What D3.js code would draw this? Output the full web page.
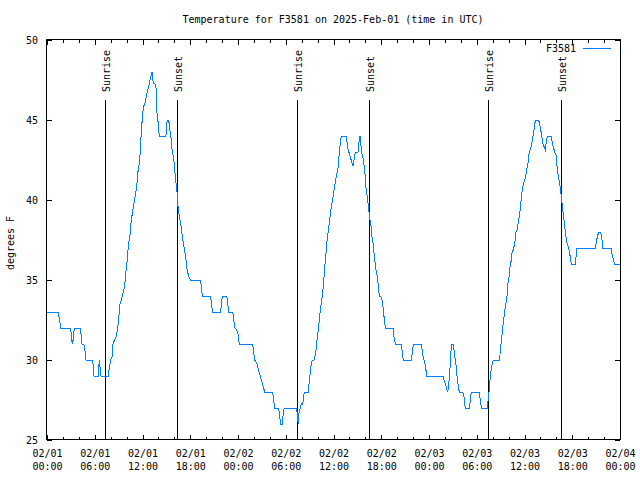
<!DOCTYPE html>
<html><head><meta charset="utf-8">
<script src="https://cdn.jsdelivr.net/npm/d3@7"></script>
<style>
body{margin:0;background:#fff}
svg text{font-family:"DejaVu Sans Mono","Liberation Mono",monospace;font-size:10px;fill:#000}
</style></head><body>
<svg id="c" width="640" height="480"></svg>
<script>
const chartTitle = "Temperature for F3581 on 2025-Feb-01 (time in UTC)";
const seriesName = "F3581";
const yAxisLabel = "degrees F";
const startTime = "2025-02-01T00:00:00Z";
const endTime = "2025-02-04T00:00:00Z";
const yTickValues = [25, 30, 35, 40, 45, 50];
const yDomain = [25, 50];
const sunriseTimes = ["2025-02-01T07:20:00Z", "2025-02-02T07:27:00Z", "2025-02-03T07:27:00Z"];
const sunsetTimes = ["2025-02-01T16:22:00Z", "2025-02-02T16:30:00Z", "2025-02-03T16:38:00Z"];
// [hours since startTime, temperature F]
const readings = [
[0,33],[1.42,33],[1.57,32.5],[1.72,32],[2.98,32],[3.08,31.3],[3.18,31],[3.30,31.3],[3.43,32],[4.18,32],
[4.31,31.5],[4.40,31],[4.61,31],[4.74,30.75],[4.90,30],[5.69,30],[5.78,29.75],[5.91,29],[6.45,29],[6.57,30],
[6.79,29],[7.70,29],[7.83,29.5],[8.00,30],[8.21,30.25],[8.29,31],[8.55,31.3],[8.71,31.5],[8.88,32],[9.09,33],
[9.17,33.5],[9.34,33.75],[9.46,34],[9.71,34.5],[9.84,35],[9.93,35.6],[10.09,36.25],[10.18,36.9],
[10.27,37.3],[10.43,37.8],[10.59,38.75],[10.77,39.3],[10.93,39.8],[11.10,40.3],[11.27,40.8],[11.44,41.8],[11.60,42.3],[11.77,43.3],
[11.85,44.4],[12.03,45.3],[12.10,45.8],[12.35,46.1],[12.60,46.8],[12.78,47.1],[12.94,47.5],[13.11,47.8],[13.19,48],[13.36,47.3],
[13.53,47.3],[13.70,47],[13.78,45.6],[13.95,44.9],[14.11,44],[14.95,44],[15.04,44.8],[15.20,45],[15.37,44.8],[15.46,44.3],
[15.62,43.75],[15.71,43.2],[15.87,42.7],[16.05,42.1],[16.12,41.35],[16.30,40.8],[16.46,39.6],[16.62,39],[16.80,38.5],[16.96,37.9],
[17.13,37.3],[17.30,36.8],[17.47,36.25],
[17.55,35.75],[17.72,35.4],[17.88,35.1],[18.06,35],[19.31,35],[19.39,34.5],[19.52,34],[20.57,34],[20.65,33.5],[20.82,33],
[21.83,33],[21.95,33.75],[22.08,34],[22.58,34],[22.66,33.75],[22.83,33],[23.34,33],[23.41,32.7],[23.59,32],[23.84,31.9],
[24.00,31.6],[24.16,31],[25.85,31],[25.92,30.6],[26.10,30],[26.35,29.8],[26.51,29.5],[26.68,29.2],[26.85,28.9],[27.02,28.6],
[27.18,28.3],[27.36,28],[28.36,28],[28.44,27.6],[28.61,27],[29.12,27],[29.19,26.6],[29.37,26],[29.57,26],[29.69,26.7],
[29.82,27],[31.38,27],[31.45,26.5],[31.58,26],[31.67,26.7],[31.83,27],[31.96,27.3],[32.13,27.2],[32.21,27.6],[32.33,28],
[32.84,28],[32.96,28.75],[33.09,29.25],[33.21,29.75],[33.34,30],[33.55,30],[33.72,30.3],[33.84,30.8],[33.93,31.25],[34.05,31.75],
[34.22,32.5],[34.34,33.1],[34.56,33.9],[34.72,34.6],[34.85,35.5],[34.97,36.25],[35.10,36.9],
[35.15,37.3],[35.40,38.3],[35.65,39.3],[35.81,39.8],[35.98,40.3],[36.15,40.9],[36.23,41.1],[36.40,41.6],[36.57,42],[36.66,42.6],
[36.82,43.4],[36.98,44],[37.57,44],[37.66,43.75],[37.82,43.2],[37.99,42.9],[38.16,42.6],[38.33,42.3],[38.49,42.1],[38.58,42.5],
[38.67,42.8],[38.74,43],[39.08,43],[39.17,43.5],[39.33,44],[39.42,43.5],[39.58,42.9],[39.75,42.5],[39.92,41.9],[40.00,41.35],
[40.09,40.7],[40.25,40.2],[40.42,39.4],[40.59,38.75],[40.75,38.3],[40.84,37.7],[41.00,37.2],[41.09,36.7],[41.18,36.25],
[41.34,35.6],[41.51,35.2],[41.59,34.8],[41.76,34],[41.93,34],[42.10,33.75],[42.26,33.2],[42.35,32.7],[42.51,32],[43.52,32],
[43.60,31.45],[43.77,31],[44.52,31],[44.61,30.6],[44.77,30],[45.78,30],[45.95,30.6],[46.03,31],[47.04,31],[47.21,30.3],
[47.37,30],[47.54,29.7],[47.71,29],
[49.80,29],[49.89,28.75],[50.05,28.5],[50.23,28.2],[50.35,28],[50.48,28.5],[50.64,29.5],[50.73,30.4],[50.85,31],[51.06,31],
[51.23,30.25],[51.40,29.7],[51.56,28.75],[51.73,28.2],[51.81,28],[52.24,28],[52.40,27.7],[52.56,27],[53.07,27],[53.24,27.7],
[53.32,28],[54.32,28],[54.50,27.3],[54.58,27],[55.33,27],[55.38,27.3],[55.51,27.8],[55.58,28.3],[55.76,29.2],[55.92,29.7],
[56.08,30],[56.84,30],[57.01,30.7],[57.09,31.25],[57.26,31.9],[57.34,32.5],[57.51,32.9],[57.59,33.4],[57.77,33.75],[57.84,34.3],
[57.93,34.8],[58.09,35.3],[58.18,35.8],[58.34,36.25],[58.43,36.7],[58.60,36.9],
[58.77,37.3],[58.94,38],[59.10,38.2],[59.27,38.75],[59.44,39.3],[59.53,39.8],[59.69,40.5],[59.85,41.0],[60.10,41.35],[60.28,41.9],
[60.44,42.3],[60.53,42.8],[60.69,43.1],[60.86,43.4],[61.03,43.85],[61.20,44.4],[61.29,44.8],[61.45,45],[61.79,45],[61.86,44.8],
[62.04,44.4],[62.20,43.85],[62.37,43.4],[62.54,43.3],[62.62,43.0],[62.70,43.5],[62.79,43.85],[62.96,44],[63.37,44],[63.46,43.65],
[63.62,43.3],[63.80,43],[63.96,42.8],[64.05,42.3],[64.13,41.9],[64.30,41.35],[64.46,40.9],[64.63,40.2],[64.80,39.4],[64.97,38.75],
[65.13,38],[65.31,37.4],[65.47,37.1],[65.63,36.8],[65.81,36.25],
[65.89,36],[66.39,36],[66.48,36.5],[66.56,37],[68.90,37],[69.08,37.5],[69.15,37.7],[69.33,38],[69.58,38],[69.74,37.5],
[69.83,37],[70.91,37],[71.00,36.6],[71.17,36.25],[71.34,36],[72.00,36]
];

const svg = d3.select("#c");
const x0 = 47, x1 = 620, y0 = 440, y1 = 40;
const t0 = new Date(startTime), tEnd = new Date(endTime);
const x = d3.scaleUtc().domain([t0, tEnd]).range([x0, x1]);
const y = d3.scaleLinear().domain(yDomain).range([y0, y1]);
const toDate = h => new Date(t0.getTime() + h * 3600e3);

// border
svg.append("rect").attr("x", x0 - 0.5).attr("y", y1 - 0.5)
  .attr("width", x1 - x0 + 1).attr("height", y0 - y1)
  .attr("fill", "none").attr("stroke", "#000").attr("shape-rendering", "crispEdges");

const majorTicks = d3.utcHour.every(6).range(t0, new Date(tEnd.getTime() + 1));
const minorTicks = d3.utcHour.every(2).range(t0, new Date(tEnd.getTime() + 1));

function styleAxis(g) {
  g.select(".domain").remove();
  g.selectAll("line").attr("stroke", "#000").attr("shape-rendering", "crispEdges");
}

// minor ticks bottom/top
svg.append("g").attr("transform", `translate(0,${y0})`)
  .call(d3.axisBottom(x).tickValues(minorTicks).tickSize(-3).tickFormat(""))
  .call(styleAxis).selectAll("text").remove();
svg.append("g").attr("transform", `translate(0,${y1})`)
  .call(d3.axisTop(x).tickValues(minorTicks).tickSize(-3).tickFormat(""))
  .call(styleAxis).selectAll("text").remove();
svg.append("g").attr("transform", `translate(0,${y1})`)
  .call(d3.axisTop(x).tickValues(majorTicks).tickSize(-5).tickFormat(""))
  .call(styleAxis).selectAll("text").remove();

// major ticks bottom with two-line labels
const fDate = d3.utcFormat("%m/%d"), fTime = d3.utcFormat("%H:%M");
const xb = svg.append("g").attr("transform", `translate(0,${y0})`)
  .call(d3.axisBottom(x).tickValues(majorTicks).tickSize(-5).tickPadding(0))
  .call(styleAxis);
xb.selectAll("text").each(function(d) {
  const t = d3.select(this);
  t.text(null).attr("y", 0).attr("dy", null).attr("fill", "#000");
  t.append("tspan").attr("x", 0).attr("y", 17).text(fDate(d));
  t.append("tspan").attr("x", 0).attr("y", 30).text(fTime(d));
});

// y axes
svg.append("g").attr("transform", `translate(${x0},0)`)
  .call(d3.axisLeft(y).tickValues(yTickValues).tickSize(-5).tickPadding(9))
  .call(styleAxis)
  .selectAll("text").attr("fill", "#000");
svg.append("g").attr("transform", `translate(${x1},0)`)
  .call(d3.axisRight(y).tickValues(yTickValues).tickSize(-5).tickFormat(""))
  .call(styleAxis).selectAll("text").remove();

// sunrise / sunset markers
const events = sunriseTimes.map(s => ({t: new Date(s), label: "Sunrise"}))
  .concat(sunsetTimes.map(s => ({t: new Date(s), label: "Sunset"})));
const ev = svg.append("g");
events.forEach(e => {
  const px = Math.round(x(e.t)) + 0.5;
  ev.append("line").attr("x1", px).attr("x2", px).attr("y1", 100).attr("y2", y0)
    .attr("stroke", "#000").attr("shape-rendering", "crispEdges");
  ev.append("text").attr("transform", `translate(${px + 4.5},92) rotate(-90)`)
    .attr("text-anchor", "start").text(e.label);
});

// data line
const line = d3.line().x(d => x(toDate(d[0]))).y(d => y(d[1]));
svg.append("path").datum(readings).attr("d", line)
  .attr("fill", "none").attr("stroke", "#0080ff").attr("stroke-width", 1)
  .attr("shape-rendering", "crispEdges");

// title
svg.append("text").attr("x", 333).attr("y", 23).attr("text-anchor", "middle").text(chartTitle);

// y label
svg.append("text").attr("transform", "translate(14,243) rotate(-90)")
  .attr("text-anchor", "middle").text(yAxisLabel);

// legend
svg.append("text").attr("x", 576).attr("y", 52).attr("text-anchor", "end").text(seriesName);
svg.append("line").attr("x1", 583).attr("x2", 611).attr("y1", 48.5).attr("y2", 48.5)
  .attr("stroke", "#0080ff").attr("shape-rendering", "crispEdges");
</script>
</body></html>
